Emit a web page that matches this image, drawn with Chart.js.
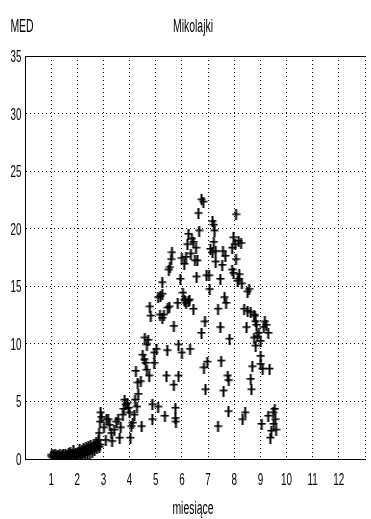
<!DOCTYPE html>
<html>
<head>
<meta charset="utf-8">
<script src="https://cdn.jsdelivr.net/npm/chart.js@4/dist/chart.umd.min.js"></script>
<style>
html,body{margin:0;padding:0;background:#fff;}
#wrap{position:relative;width:371px;height:519px;}
</style>
</head>
<body>
<div id="wrap"><canvas id="c"></canvas></div>
<script>
const chartTitle = "Mikolajki";
const yLabel = "MED";
const xLabel = "miesiące";
const xTicks = [1,2,3,4,5,6,7,8,9,10,11,12];
const yTicks = [0,5,10,15,20,25,30,35];

// winter / early spring (months 1 - 2.8)
const monthsLow = [1.00,1.03,1.06,1.09,1.12,1.15,1.18,1.21,1.24,1.27,1.30,1.33,1.36,1.40,1.43,1.46,1.49,1.52,1.55,1.58,1.61,1.64,1.67,1.70,1.73,1.76,1.79,1.82,1.85,1.88,1.91,1.94,1.97,2.00,2.03,2.06,2.09,2.12,2.15,2.18,2.21,2.24,2.27,2.30,2.33,2.36,2.39,2.42,2.45,2.48,2.51,2.54,2.57,2.60,2.63,2.66,2.69,2.72,2.75,2.78,2.81,2.84,2.87];
const medLow = [0.2,0.35,0.1,0.3,0.15,0.4,0.2,0.1,0.3,0.25,0.15,0.35,0.2,0.1,0.3,0.4,0.2,0.15,0.35,0.25,0.1,0.3,0.5,0.2,0.6,0.35,0.15,0.4,0.7,0.3,0.2,0.5,0.15,0.4,0.6,0.3,0.8,0.5,0.2,0.7,0.4,0.9,0.6,0.3,1.0,0.7,0.5,1.1,0.8,0.4,1.2,0.9,0.6,1.0,1.3,0.7,1.1,1.4,0.9,1.2,1.6,1.0,1.2];

// spring (months 2.8 - 5)
const monthsSpring = [2.83,2.87,2.89,2.93,3.02,3.09,3.12,3.18,3.24,3.30,3.33,3.41,3.49,3.56,3.62,3.66,3.74,3.78,3.81,3.85,3.91,3.96,4.00,4.03,4.06,4.12,4.18,4.21,4.24,4.28,4.31,4.33,4.43,4.46,4.50,4.56,4.58,4.62,4.66,4.66,4.71,4.75,4.77,4.81,4.87,4.87,4.94,4.94];
const medSpring = [2.2,3.2,4.0,3.6,2.7,1.6,3.4,3.4,2.9,2.2,1.5,2.5,3.2,3.4,1.8,2.7,3.8,4.3,5.1,4.7,4.8,4.4,4.0,1.8,2.8,3.1,3.8,5.1,7.6,4.5,6.6,5.6,6.7,2.8,9.0,8.6,10.5,8.3,9.9,7.7,10.3,7.2,13.2,12.4,4.7,3.4,9.2,8.3];

// summer (months 5 - 7.5)
const monthsSummer = [5.03,5.09,5.09,5.16,5.18,5.25,5.25,5.25,5.31,5.35,5.41,5.44,5.46,5.50,5.52,5.54,5.59,5.62,5.69,5.69,5.75,5.75,5.77,5.84,5.87,5.87,5.94,6.00,6.00,6.04,6.09,6.09,6.13,6.16,6.16,6.21,6.25,6.25,6.29,6.31,6.34,6.38,6.44,6.44,6.50,6.54,6.56,6.59,6.63,6.66,6.75,6.82,6.75,6.84,6.97,6.88,6.90,6.94,7.04,7.06,7.09,7.17,7.17,7.22,7.22,7.25,7.29,7.29,7.38,7.38,7.47,7.47,7.50];
const medSummer = [9.5,4.5,14.0,12.5,14.1,12.2,14.3,15.3,12.5,3.7,7.2,9.4,13.1,16.4,13.2,16.6,17.3,17.9,11.5,6.4,4.4,3.5,3.2,13.5,9.9,7.2,15.6,9.2,17.4,14.4,13.8,16.9,13.7,13.5,17.5,18.6,19.5,13.7,13.8,9.5,17.8,19.1,18.8,13.0,17.2,18.3,15.8,17.2,21.3,19.8,22.5,22.3,10.9,7.9,8.4,11.9,6.0,15.9,15.9,14.7,18.2,20.6,17.9,20.3,18.8,19.8,18.0,17.1,13.0,2.8,15.6,11.4,8.5];

// late summer / autumn (months 7.5 - 9.6)
const monthsAutumn = [7.54,7.57,7.59,7.63,7.66,7.69,7.75,7.79,7.78,7.82,7.92,7.92,7.97,7.97,8.04,8.07,8.07,8.13,8.17,8.17,8.19,8.26,8.29,8.32,8.38,8.42,8.47,8.51,8.51,8.57,8.63,8.63,8.66,8.69,8.76,8.76,8.79,8.82,8.82,8.85,8.88,8.94,9.01,9.01,9.01,9.05,9.09,9.13,9.17,9.22,9.30,9.30,9.35,9.38,9.42,9.49,9.51,9.55,9.57,9.60];
const medAutumn = [16.8,18.0,5.9,14.0,17.6,13.5,7.2,6.8,4.1,10.4,18.3,16.4,19.2,16.1,18.6,21.2,17.3,15.4,18.9,15.6,16.0,18.7,15.2,3.4,13.0,4.0,11.4,12.8,14.5,14.7,12.7,6.9,6.0,8.0,12.5,10.5,12.4,11.9,9.8,11.6,10.6,10.9,10.2,8.9,8.2,3.0,7.8,11.4,11.9,11.6,10.9,3.7,7.8,1.8,2.4,4.0,3.0,4.3,3.4,2.5];

const months = [].concat(monthsLow, monthsSpring, monthsSummer, monthsAutumn);
const med = [].concat(medLow, medSpring, medSummer, medAutumn);
const points = months.map((m, i) => ({x: m, y: med[i]}));

const FONT = "'Liberation Sans', Arial, sans-serif";
const SQUEEZE = 0.58;

// tall "+" marker used as the point style
function makeMarker() {
  const c = document.createElement('canvas');
  c.width = 9; c.height = 11;
  const g = c.getContext('2d');
  g.fillStyle = '#000';
  g.fillRect(3.5, 0, 2, 11);     // vertical stroke
  g.fillRect(0.5, 4, 8, 1.6);    // horizontal stroke
  return c;
}
const marker = makeMarker();

// draws condensed (narrow) text like the original
function narrowText(ctx, txt, x, y, size, align) {
  ctx.save();
  ctx.font = size + 'px ' + FONT;
  ctx.textBaseline = 'alphabetic';
  ctx.textAlign = align;
  ctx.translate(x, y);
  ctx.scale(SQUEEZE, 1);
  ctx.fillText(txt, 0, 0);
  ctx.restore();
}

const textPlugin = {
  id: 'texts',
  afterDraw(chart) {
    const ctx = chart.ctx;
    const a = chart.chartArea;
    ctx.save();
    ctx.strokeStyle = '#000';
    ctx.lineWidth = 1;
    ctx.beginPath();
    ctx.moveTo(a.left, a.top + 0.5);
    ctx.lineTo(a.right, a.top + 0.5);
    ctx.stroke();
    ctx.fillStyle = '#000';
    const xs = chart.scales.x, ys = chart.scales.y;
    xs.ticks.forEach(t => {
      if (xTicks.includes(t.value)) {
        narrowText(ctx, String(t.value), xs.getPixelForValue(t.value), 485, 17, 'center');
      }
    });
    ys.ticks.forEach(t => {
      narrowText(ctx, String(t.value), 21.5, ys.getPixelForValue(t.value) + 6, 17, 'right');
    });
    narrowText(ctx, yLabel, 22, 31.5, 18, 'center');
    narrowText(ctx, chartTitle, 193, 31.5, 18, 'center');
    narrowText(ctx, xLabel, 193, 514, 18, 'center');
    ctx.restore();
  }
};

new Chart(document.getElementById('c'), {
  type: 'scatter',
  data: {
    datasets: [{
      data: points,
      pointStyle: marker,
      pointRadius: 5,
      borderColor: '#000',
      backgroundColor: '#000'
    }]
  },
  options: {
    responsive: true,
    maintainAspectRatio: false,
    animation: false,
    layout: {padding: {top: 56, right: 0, bottom: 0, left: 0}},
    plugins: {legend: {display: false}, tooltip: {enabled: false}, title: {display: false}},
    scales: {
      x: {
        type: 'linear',
        min: 0, max: 13,
        afterBuildTicks: s => { s.ticks = [0].concat(xTicks, [13]).map(v => ({value: v})); },
        afterFit: s => { s.height = 60; },
        ticks: {display: false},
        grid: {color: '#000', lineWidth: 1, drawTicks: false},
        border: {display: true, color: '#000', width: 1, dash: [1, 3]}
      },
      y: {
        type: 'linear',
        min: 0, max: 35,
        afterBuildTicks: s => { s.ticks = yTicks.map(v => ({value: v})); },
        afterFit: s => { s.width = 25; },
        ticks: {display: false},
        grid: {color: '#000', lineWidth: 1, drawTicks: false},
        border: {display: true, color: '#000', width: 1, dash: [1, 3]}
      }
    }
  },
  plugins: [textPlugin]
});
</script>
</body>
</html>
